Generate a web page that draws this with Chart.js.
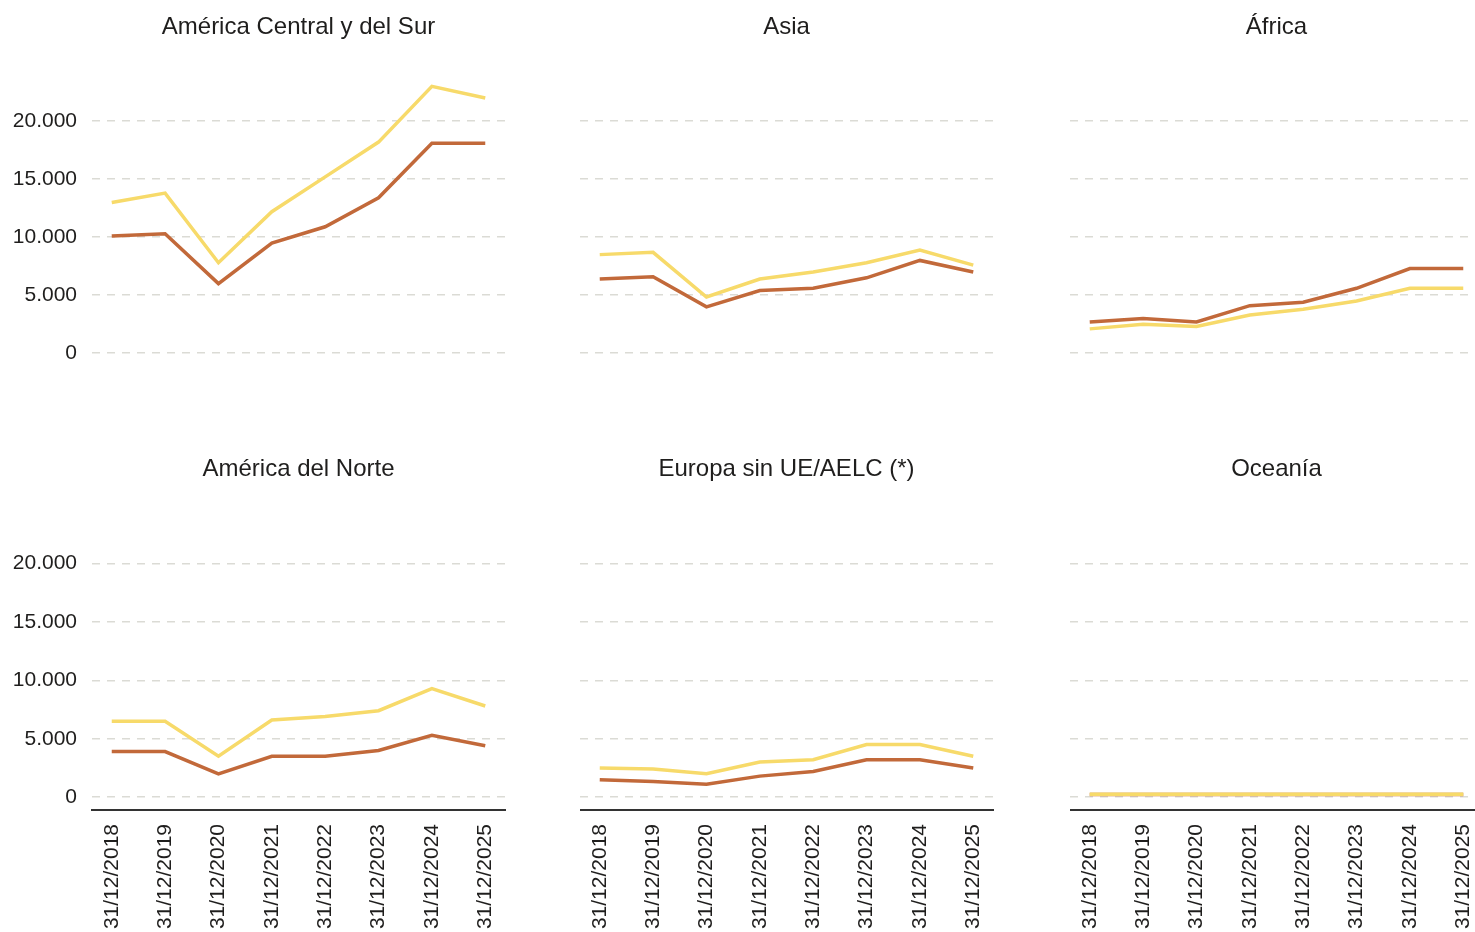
<!DOCTYPE html>
<html lang="es">
<head>
    <meta charset="UTF-8">
    <title>Evolución por región</title>
    <script src="https://cdn.jsdelivr.net/npm/chart.js"></script>
    <style>
        html, body {
            margin: 0;
            padding: 0;
            background: #ffffff;
            overflow: hidden;
            width: 1475px;
            height: 932px;
        }
        .panel {
            position: absolute;
        }
    </style>
</head>
<body>

<div id="grafico"></div>

<script>
    // Datos
    const fechas = ['31/12/2018', '31/12/2019', '31/12/2020', '31/12/2021', '31/12/2022', '31/12/2023', '31/12/2024', '31/12/2025'];
    const regiones = ['América Central y del Sur', 'Asia', 'África', 'América del Norte', 'Europa sin UE/AELC (*)', 'Oceanía'];
    const ticksY = [0, 5000, 10000, 15000, 20000];

    // serie amarilla
    const amarilloAmerCentral = [13000, 13800, 7800, 12200, 15200, 18200, 23000, 22000];
    const amarilloAsia = [8500, 8700, 4850, 6400, 7000, 7800, 8900, 7600];
    const amarilloAfrica = [2100, 2500, 2300, 3300, 3800, 4500, 5600, 5600];
    const amarilloAmerNorte = [6500, 6500, 3500, 6600, 6900, 7400, 9300, 7800];
    const amarilloEuropa = [2500, 2400, 2000, 3000, 3200, 4500, 4500, 3500];
    const amarilloOceania = [250, 250, 250, 250, 250, 250, 250, 250];

    // serie marrón
    const marronAmerCentral = [10100, 10300, 6000, 9500, 10900, 13400, 18100, 18100];
    const marronAsia = [6400, 6600, 4000, 5400, 5600, 6500, 8000, 7000];
    const marronAfrica = [2700, 3000, 2700, 4100, 4400, 5600, 7300, 7300];
    const marronAmerNorte = [3900, 3900, 2000, 3500, 3500, 4000, 5300, 4400];
    const marronEuropa = [1500, 1350, 1100, 1800, 2200, 3200, 3200, 2500];
    const marronOceania = [220, 220, 220, 220, 220, 220, 220, 220];

    const amarillo = [amarilloAmerCentral, amarilloAsia, amarilloAfrica, amarilloAmerNorte, amarilloEuropa, amarilloOceania];
    const marron = [marronAmerCentral, marronAsia, marronAfrica, marronAmerNorte, marronEuropa, marronOceania];

    const fuente = "'Liberation Sans', Arial, sans-serif";
    const colorTexto = '#1f1e1d';

    // Geometría de los paneles
    const izquierdas = [92, 580, 1070];   // borde izquierdo del área de trazado
    const anchoArea = 413;
    const margenDer = 20;
    const filas = [
        { top: 0, alto: 396, ejeX: false, altoEjeX: 30 },
        { top: 442, alto: 490, ejeX: true, altoEjeX: 122 }
    ];

    const puntos = (valores) => valores.map((v, i) => ({ x: i, y: v }));

    regiones.forEach((region, idx) => {
        const col = idx % 3;
        const fila = filas[Math.floor(idx / 3)];
        const anchoEjeY = col === 0 ? 92 : 0;
        const ancho = anchoEjeY + anchoArea + margenDer;

        const div = document.createElement('div');
        div.className = 'panel';
        div.style.left = (izquierdas[col] - anchoEjeY) + 'px';
        div.style.top = fila.top + 'px';
        const canvas = document.createElement('canvas');
        canvas.width = ancho;
        canvas.height = fila.alto;
        canvas.style.width = ancho + 'px';
        canvas.style.height = fila.alto + 'px';
        div.appendChild(canvas);
        document.getElementById('grafico').appendChild(div);

        new Chart(canvas.getContext('2d'), {
            type: 'line',
            data: {
                datasets: [{
                    label: 'Serie amarilla',
                    data: puntos(amarillo[idx]),
                    borderColor: '#F7DA6A',
                    borderWidth: 3.5,
                    pointRadius: 0,
                    tension: 0,
                    fill: false
                }, {
                    label: 'Serie marrón',
                    data: puntos(marron[idx]),
                    borderColor: '#C2693A',
                    borderWidth: 3.5,
                    pointRadius: 0,
                    tension: 0,
                    fill: false
                }]
            },
            options: {
                responsive: false,
                animation: false,
                devicePixelRatio: 1,
                layout: { padding: { right: margenDer } },
                plugins: {
                    legend: { display: false },
                    tooltip: { enabled: false },
                    title: {
                        display: true,
                        text: region,
                        fullSize: false,
                        color: colorTexto,
                        font: { family: fuente, size: 24, weight: 'normal' },
                        padding: { top: 13, bottom: 33 }
                    }
                },
                scales: {
                    x: {
                        type: 'linear',
                        min: -0.37,
                        max: 7.37,
                        afterBuildTicks: (scale) => {
                            scale.ticks = fechas.map((f, i) => ({ value: i }));
                        },
                        afterFit: (scale) => {
                            scale.height = fila.altoEjeX;
                        },
                        grid: { display: false },
                        border: { display: fila.ejeX, color: '#333333', width: 2 },
                        ticks: {
                            display: fila.ejeX,
                            autoSkip: false,
                            maxRotation: 90,
                            minRotation: 90,
                            padding: 6,
                            color: colorTexto,
                            font: { family: fuente, size: 21 },
                            callback: (v) => fechas[v]
                        }
                    },
                    y: {
                        min: -1100,
                        max: 24000,
                        afterBuildTicks: (scale) => {
                            scale.ticks = ticksY.map(v => ({ value: v }));
                        },
                        afterFit: (scale) => {
                            scale.width = anchoEjeY;
                        },
                        grid: {
                            color: '#DBDBD5',
                            lineWidth: 1.5,
                            drawTicks: false
                        },
                        border: { display: false, dash: [8, 7] },
                        ticks: {
                            display: col === 0,
                            padding: 15,
                            color: colorTexto,
                            font: { family: fuente, size: 21 },
                            callback: (v) => v.toLocaleString('de-DE')
                        }
                    }
                }
            }
        });
    });
</script>

</body>
</html>
